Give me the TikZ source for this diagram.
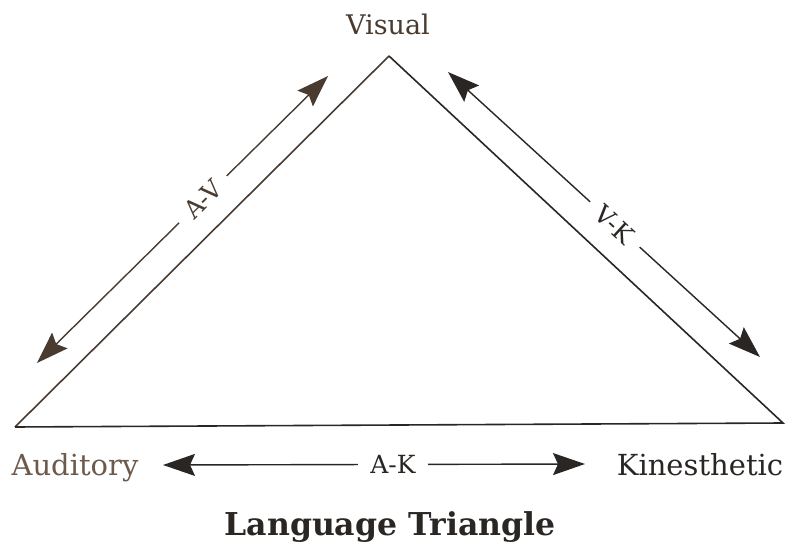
\documentclass[tikz,border=0pt]{standalone}
\usepackage{xcolor}
\usepackage{fontspec}
\setmainfont{DejaVu Serif}
\usetikzlibrary{arrows.meta,positioning}

\definecolor{inkbrown}{HTML}{4A3B30}
\definecolor{inkdark}{HTML}{2A2624}
\definecolor{inklight}{HTML}{6E5A4A}

\tikzset{
	side/.style={line width=1.6pt},
	twoway/.style={line width=1.4pt,{Stealth[length=32pt,width=22pt,inset=5pt]}-{Stealth[length=32pt,width=22pt,inset=5pt]}},
	tag/.style={font=\fontsize{25}{28}\selectfont,fill=white,inner xsep=12pt,inner ysep=4pt},
	sense/.style={font=\fontsize{29}{34}\selectfont,inner sep=0pt,anchor=base}
}

\begin{document}
\begin{tikzpicture}[x=1pt,y=-1pt]
			\useasboundingbox (0,0) rectangle (798,548);
			% corners of the triangle
			\coordinate (apex) at (389,56);
			\coordinate (aud) at (15,427);
			\coordinate (kin) at (783,423);
			\draw[side,inkbrown] (aud) -- (apex);
			\draw[side,inkdark] (apex) -- (kin) -- (aud);
			% labels
			\node[sense,inkbrown,font=\fontsize{27}{32}\selectfont] (visual) at (388,35) {Visual};
			\node[sense,inklight] (auditory) at (75,475) {Auditory};
			\node[sense,inkdark] (kinesthetic) at (700,475) {Kinesthetic};
			\node[anchor=base,inner sep=0pt,inkdark,font=\fontsize{31.5}{36}\selectfont\bfseries] (title) at (390,535) {Language Triangle};
			% arrows between the senses
			\coordinate (av1) at (37,363);
			\coordinate (av2) at (328,76);
			\coordinate (vk1) at (448,72);
			\coordinate (vk2) at (760,357);
			\coordinate (ak1) at (163,465);
			\coordinate (ak2) at (585,464);
			\draw[twoway,inkbrown] (av1) -- node[tag,sloped,pos=0.57] (avtag) {A-V} (av2);
			\draw[twoway,inkdark] (vk1) -- node[tag,sloped,pos=0.535] (vktag) {V-K} (vk2);
			\draw[twoway,inkdark] (ak1) -- node[tag,pos=0.545] (aktag) {A-K} (ak2);
		\end{tikzpicture}
\end{document}
